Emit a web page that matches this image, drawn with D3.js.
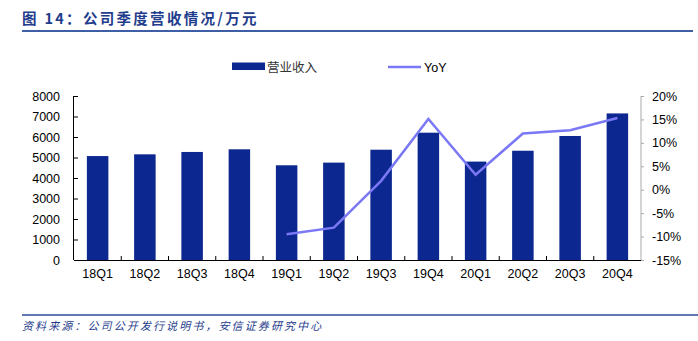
<!DOCTYPE html>
<html>
<head>
<meta charset="utf-8">
<script src="https://cdn.jsdelivr.net/npm/d3@7/dist/d3.min.js"></script>
<style>
  html, body { margin: 0; padding: 0; background: #fff; }
  svg { display: block; }
</style>
</head>
<body>
<svg id="chart" width="698" height="341"></svg>
<script>
// Quarterly revenue (万元) and year-over-year growth (%)
const quarters = ["18Q1","18Q2","18Q3","18Q4","19Q1","19Q2","19Q3","19Q4","20Q1","20Q2","20Q3","20Q4"];
const revenue  = [5070, 5155, 5270, 5400, 4620, 4750, 5380, 6210, 4800, 5330, 6050, 7150];
const yoy      = [null, null, null, null, -9.5, -8.1, 1.9, 15.1, 3.2, 12.0, 12.7, 15.3];
const leftTicks  = [0, 1000, 2000, 3000, 4000, 5000, 6000, 7000, 8000];
const rightTicks = [-15, -10, -5, 0, 5, 10, 15, 20];

const titleText  = "图 14：公司季度营收情况/万元";
const sourceText = "资料来源：公司公开发行说明书，安信证券研究中心";
const legendBar  = "营业收入";
const legendLine = "YoY";

const barColor = "#0C278F";
const lineColor = "#7B78F5";
const navy = "#1F3D8C";
const font = "Arial, 'Liberation Sans', 'Noto Sans CJK SC', sans-serif";
const cjk = "'Noto Sans CJK SC', sans-serif";

const svg = d3.select("#chart");
const plot = { left: 74, right: 641, top: 96, bottom: 260 };

const x = d3.scaleBand().domain(quarters).range([plot.left, plot.right]).paddingInner(0.545).paddingOuter(0.2725);
const yL = d3.scaleLinear().domain([0, 8000]).range([plot.bottom, plot.top]);
const yR = d3.scaleLinear().domain([-15, 20]).range([plot.bottom, plot.top]);

// Title and rule
svg.append("text").attr("x", 22).attr("y", 24)
  .attr("font-family", cjk).attr("font-weight", "bold").attr("font-size", 14.5)
  .attr("letter-spacing", 2.3).attr("fill", navy).text(titleText);
svg.append("line").attr("x1", 22).attr("x2", 693).attr("y1", 31).attr("y2", 31)
  .attr("stroke", "#3E5EA6").attr("stroke-width", 2);

// Bars
svg.append("g").selectAll("rect").data(quarters).join("rect")
  .attr("x", d => x(d))
  .attr("width", x.bandwidth())
  .attr("y", (d, i) => yL(revenue[i]))
  .attr("height", (d, i) => plot.bottom - yL(revenue[i]))
  .attr("fill", barColor);

// Left axis
const gL = svg.append("g").attr("transform", `translate(${plot.left},0)`)
  .call(d3.axisLeft(yL).tickValues(leftTicks).tickSize(-4).tickPadding(14).tickFormat(d3.format("d")));
gL.select(".domain").attr("stroke", "#000").attr("d", `M-0.5,${plot.top}V${plot.bottom}`);
gL.selectAll(".tick line").attr("stroke", "#000");
gL.selectAll("text").attr("font-family", font).attr("font-size", 12.5).attr("fill", "#000");

// Right axis
const gR = svg.append("g").attr("transform", `translate(${plot.right},0)`)
  .call(d3.axisRight(yR).tickValues(rightTicks).tickSize(3).tickPadding(8).tickFormat(d => d + "%"));
gR.select(".domain").attr("stroke", "#aaa").attr("d", `M0,${plot.top}V${plot.bottom}`);
gR.selectAll(".tick line").attr("stroke", "#aaa");
gR.selectAll("text").attr("font-family", font).attr("font-size", 12.5).attr("fill", "#000");

// Bottom axis with ticks between categories
const gB = svg.append("g").attr("transform", `translate(0,${plot.bottom})`)
  .call(d3.axisBottom(x).tickSize(0).tickPadding(9));
gB.select(".domain").attr("stroke", "#000").attr("d", `M${plot.left},0.5H${plot.right}`);
gB.selectAll("text").attr("font-family", font).attr("font-size", 12.5).attr("fill", "#000");
const step = x.step();
gB.append("g").selectAll("line").data(d3.range(1, quarters.length)).join("line")
  .attr("x1", i => x(quarters[i]) - step * x.paddingInner() / 2)
  .attr("x2", i => x(quarters[i]) - step * x.paddingInner() / 2)
  .attr("y1", 0).attr("y2", -4).attr("stroke", "#000");

// YoY line
const line = d3.line()
  .defined(d => d.v !== null)
  .x(d => x(d.q) + x.bandwidth() / 2)
  .y(d => yR(d.v));
svg.append("path")
  .datum(quarters.map((q, i) => ({ q, v: yoy[i] })))
  .attr("d", line)
  .attr("fill", "none").attr("stroke", lineColor).attr("stroke-width", 2.5)
  .attr("stroke-linejoin", "miter");

// Legend
const lg = svg.append("g");
lg.append("rect").attr("x", 232).attr("y", 62.5).attr("width", 33).attr("height", 7.5).attr("fill", barColor);
lg.append("text").attr("x", 267).attr("y", 71.5).attr("font-family", cjk).attr("font-size", 12.5)
  .attr("fill", "#333").text(legendBar);
lg.append("line").attr("x1", 388).attr("x2", 421).attr("y1", 67).attr("y2", 67)
  .attr("stroke", lineColor).attr("stroke-width", 2.5);
lg.append("text").attr("x", 424).attr("y", 71.5).attr("font-family", font).attr("font-size", 12.5)
  .attr("fill", "#000").text(legendLine);

// Source note
svg.append("line").attr("x1", 22).attr("x2", 698).attr("y1", 315).attr("y2", 315)
  .attr("stroke", "#2B4A9A").attr("stroke-width", 1.5);
svg.append("text").attr("x", 22).attr("y", 330)
  .attr("font-family", cjk).attr("font-style", "italic").attr("font-size", 11)
  .attr("letter-spacing", 2.1).attr("fill", navy).text(sourceText);
</script>
</body>
</html>
